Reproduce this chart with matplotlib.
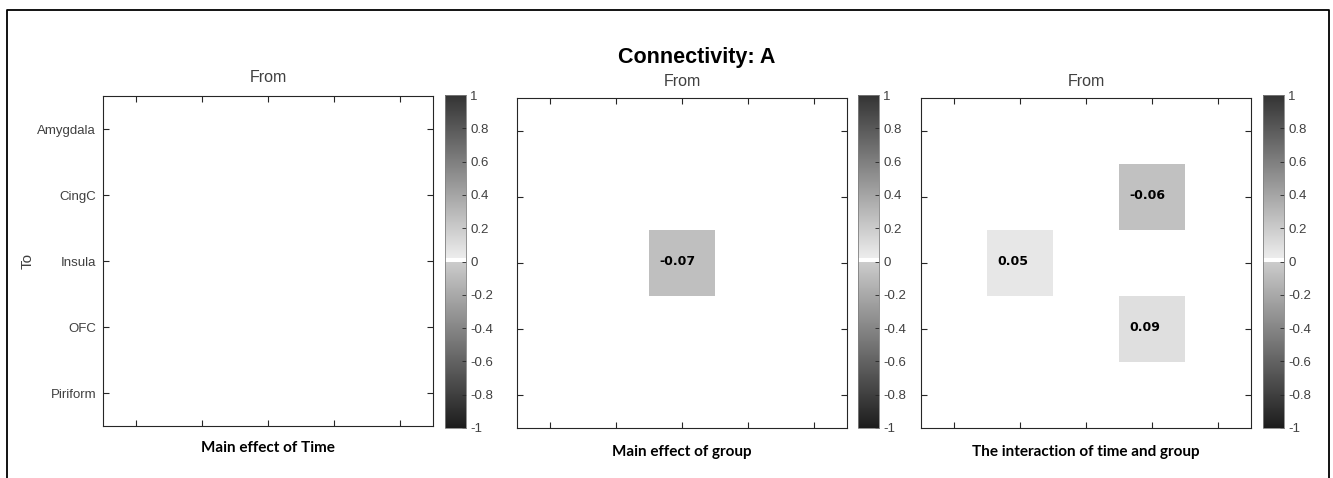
import matplotlib
matplotlib.use("Agg")
import matplotlib.pyplot as plt
from matplotlib.colors import LinearSegmentedColormap
from matplotlib.lines import Line2D
import numpy as np

# data
regions = ["Amygdala", "CingC", "Insula", "OFC", "Piriform"]
time_effect = [
    [0, 0, 0, 0, 0],
    [0, 0, 0, 0, 0],
    [0, 0, 0, 0, 0],
    [0, 0, 0, 0, 0],
    [0, 0, 0, 0, 0],
]
group_effect = [
    [0, 0, 0, 0, 0],
    [0, 0, 0, 0, 0],
    [0, 0, -0.07, 0, 0],
    [0, 0, 0, 0, 0],
    [0, 0, 0, 0, 0],
]
interaction = [
    [0, 0, 0, 0, 0],
    [0, 0, 0, -0.06, 0],
    [0, 0.05, 0, 0, 0],
    [0, 0, 0, 0.09, 0],
    [0, 0, 0, 0, 0],
]
panel_titles = ["Main effect of Time", "Main effect of group", "The interaction of time and group"]
cbar_ticks = [-1, -0.8, -0.6, -0.4, -0.2, 0, 0.2, 0.4, 0.6, 0.8, 1]

# gray map: dark at both ends, white at zero
cmap = LinearSegmentedColormap.from_list("pn_gray", [
    (0.0, (0.11, 0.11, 0.11)),
    (0.4999, (0.80, 0.80, 0.80)),
    (0.5, (1, 1, 1)),
    (0.51, (1, 1, 1)),
    (0.5101, (0.93, 0.93, 0.93)),
    (1.0, (0.20, 0.20, 0.20)),
], N=1024)

W, H = 1333, 478
fig = plt.figure(figsize=(W / 100, H / 100), dpi=100)
fc = "#262626"
tc = "#404040"

def box(x0, y0, x1, y1):
    # pixel box (top-left origin) -> figure fraction
    return [x0 / W, 1 - y1 / H, (x1 - x0) / W, (y1 - y0) / H]

axes_px = [(103, 96, 433, 426), (517, 98, 847, 428), (921, 98, 1251, 428)]
cbar_px = [(445, 95, 466, 428), (858, 95, 879, 428), (1263, 95, 1284, 428)]
from_y = [78, 81, 81]
label_y = [448, 452, 452]
mats = [time_effect, group_effect, interaction]

for i, (mat, apx, cpx, ttl) in enumerate(zip(mats, axes_px, cbar_px, panel_titles)):
    ax = fig.add_axes(box(*apx))
    m = np.array(mat, dtype=float)
    im = ax.imshow(m, cmap=cmap, vmin=-1, vmax=1, aspect="auto", interpolation="nearest")
    for r in range(m.shape[0]):
        for c in range(m.shape[1]):
            if m[r, c] != 0:
                ax.text(c - 0.34, r - 0.03, f"{m[r, c]:.2f}", ha="left", va="center",
                        fontsize=9, fontweight="bold", color="black", family="DejaVu Sans")
    ax.set_xticks(range(5))
    ax.set_yticks(range(5))
    ax.set_xticklabels([])
    if i == 0:
        ax.set_yticklabels(regions, fontsize=9.5, color=tc, family="Liberation Sans")
        ax.set_ylabel("To", fontsize=11, color=tc, family="Liberation Sans")
        ax.yaxis.set_label_coords((35 - 103) / 330, 0.5)
    else:
        ax.set_yticklabels([])
    ax.tick_params(direction="in", length=4, width=0.8, color=fc, top=True, right=True, pad=5)
    for s in ax.spines.values():
        s.set_color(fc)
        s.set_linewidth(0.8)
    cx = (apx[0] + apx[2]) / 2 / W
    fig.text(cx, 1 - from_y[i] / H, "From", ha="center", va="center", fontsize=11.5,
             color=tc, family="Liberation Sans")
    fig.text(cx, 1 - label_y[i] / H, ttl, ha="center", va="center", fontsize=11,
             fontweight="bold", color="black", family="Lato")

    cax = fig.add_axes(box(*cpx))
    cb = fig.colorbar(im, cax=cax, ticks=cbar_ticks)
    cb.ax.set_yticklabels([f"{t:g}" for t in cbar_ticks], fontsize=9.5, color=tc,
                          family="Liberation Sans")
    cb.ax.tick_params(direction="in", length=3, width=0.6, color=fc, pad=3)
    cb.outline.set_edgecolor("#808080")
    cb.outline.set_linewidth(0.6)

fig.text(697 / W, 1 - 58 / H, "Connectivity: A", ha="center", va="center",
         fontsize=15.5, fontweight="bold", family="Liberation Sans")

# outer frame (no bottom edge)
xl, xr, yt = 7 / W, 1329 / W, 1 - 10 / H
fig.add_artist(Line2D([xl, xl, xr, xr], [0, yt, yt, 0], color="black", lw=1.3,
                      transform=fig.transFigure))

fig.savefig("out.png", dpi=100)
